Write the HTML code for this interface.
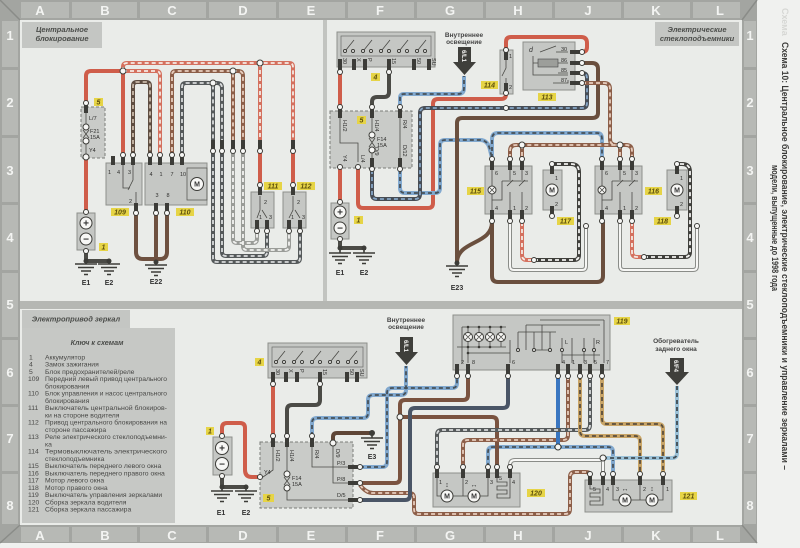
<!DOCTYPE html>
<html><head><meta charset="utf-8"><style>
html,body{margin:0;padding:0;background:#f0f1ef;width:800px;height:548px;overflow:hidden}
svg{display:block;font-family:"Liberation Sans",sans-serif}
.w{fill:none;stroke-width:4;stroke-linejoin:round}
.d{fill:none;stroke-width:1.8;stroke-dasharray:4 3}
.o{fill:none;stroke-width:2;stroke:#f7f7f5}
.th{fill:none;stroke:#4a4a46;stroke-width:.8}
.box{fill:#c5c7c4;stroke:#8d8f8b;stroke-width:1}
.dbox{fill:#c9cbc8;stroke:#7b7d79;stroke-width:1;stroke-dasharray:3 2}
.p{fill:#3c3c38}
.c{fill:#f7f7f5;stroke:#3c3c38;stroke-width:1}
.y{fill:#e6d446}
.yt{font-size:7px;font-weight:bold;font-style:italic;fill:#5d4f0c;text-anchor:middle}
.s{font-size:5.5px;fill:#2e2e2c}
.g{fill:none;stroke:#3c3c38;stroke-width:1.6}
.fl{font-size:13px;font-weight:bold;fill:#f3f4f2;text-anchor:middle}
.pt{font-size:7.5px;font-weight:bold;font-style:italic;fill:#4b4d4a;text-anchor:middle}
.k{font-size:6.8px;fill:#484846}
.e{font-size:7px;font-weight:bold;fill:#333;text-anchor:middle}
.bt{font-size:10px;font-weight:bold;fill:#333;text-anchor:middle}
.mt{font-size:7px;font-weight:bold;fill:#333;text-anchor:middle}
</style></head><body>
<svg width="800" height="548" viewBox="0 0 800 548">
<rect width="800" height="548" fill="#f0f1ef"/>
<!-- FRAME -->
<rect x="0" y="0" width="757" height="543" fill="#a3a5a1"/>
<g fill="#b7b9b5">
<rect x="21" y="2" width="48" height="16"/><rect x="72" y="2" width="65" height="16"/><rect x="140" y="2" width="66" height="16"/><rect x="209" y="2" width="67" height="16"/><rect x="279" y="2" width="66" height="16"/><rect x="348" y="2" width="66" height="16"/><rect x="417" y="2" width="66" height="16"/><rect x="486" y="2" width="66" height="16"/><rect x="555" y="2" width="66" height="16"/><rect x="624" y="2" width="66" height="16"/><rect x="693" y="2" width="47" height="16"/>
<rect x="21" y="527" width="48" height="15"/><rect x="72" y="527" width="65" height="15"/><rect x="140" y="527" width="66" height="15"/><rect x="209" y="527" width="67" height="15"/><rect x="279" y="527" width="66" height="15"/><rect x="348" y="527" width="66" height="15"/><rect x="417" y="527" width="66" height="15"/><rect x="486" y="527" width="66" height="15"/><rect x="555" y="527" width="66" height="15"/><rect x="624" y="527" width="66" height="15"/><rect x="693" y="527" width="47" height="15"/>
<rect x="2" y="21" width="16" height="46"/><rect x="2" y="70" width="16" height="65"/><rect x="2" y="138" width="16" height="64"/><rect x="2" y="205" width="16" height="65"/><rect x="2" y="273" width="16" height="64"/><rect x="2" y="340" width="16" height="64"/><rect x="2" y="407" width="16" height="64"/><rect x="2" y="474" width="16" height="50"/>
<rect x="744" y="21" width="12" height="46"/><rect x="744" y="70" width="12" height="65"/><rect x="744" y="138" width="12" height="64"/><rect x="744" y="205" width="12" height="65"/><rect x="744" y="273" width="12" height="64"/><rect x="744" y="340" width="12" height="64"/><rect x="744" y="407" width="12" height="64"/><rect x="744" y="474" width="12" height="50"/>
</g>
<path d="M0,0 L20,20 M757,0 L742,20 M0,543 L20,525 M757,543 L742,525" stroke="#8a8c88" stroke-width="1.5"/>
<g class="fl">
<text x="40" y="15">A</text><text x="105" y="15">B</text><text x="172" y="15">C</text><text x="243" y="15">D</text><text x="311" y="15">E</text><text x="380" y="15">F</text><text x="450" y="15">G</text><text x="518" y="15">H</text><text x="588" y="15">J</text><text x="656" y="15">K</text><text x="720" y="15">L</text>
<text x="40" y="540">A</text><text x="105" y="540">B</text><text x="172" y="540">C</text><text x="243" y="540">D</text><text x="311" y="540">E</text><text x="380" y="540">F</text><text x="450" y="540">G</text><text x="518" y="540">H</text><text x="588" y="540">J</text><text x="656" y="540">K</text><text x="720" y="540">L</text>
<text x="10" y="40">1</text><text x="10" y="107">2</text><text x="10" y="175">3</text><text x="10" y="242">4</text><text x="10" y="309">5</text><text x="10" y="377">6</text><text x="10" y="443">7</text><text x="10" y="510">8</text>
<text x="750" y="40">1</text><text x="750" y="107">2</text><text x="750" y="175">3</text><text x="750" y="242">4</text><text x="750" y="309">5</text><text x="750" y="377">6</text><text x="750" y="443">7</text><text x="750" y="510">8</text>
</g>
<rect x="20" y="20" width="722" height="505" fill="#eaece9"/>
<rect x="323" y="20" width="4" height="282" fill="#c2c4c0"/>
<rect x="20" y="301" width="722" height="8" fill="#b5b7b3"/>

<!-- right title -->
<text transform="translate(782,8) rotate(90)" font-size="9" font-weight="bold" fill="#d6d7d4">Схема</text>
<text transform="translate(782,42) rotate(90)" font-size="9" font-weight="bold" fill="#3a3a38" textLength="428" lengthAdjust="spacingAndGlyphs">Схема 10: Центральное блокирование, электрические стеклоподъемники и управление зеркалами –</text>
<text transform="translate(772,165) rotate(90)" font-size="9" font-weight="bold" fill="#3a3a38" textLength="126" lengthAdjust="spacingAndGlyphs">модели, выпущенные до 1998 года</text>

<!-- ================= TOP LEFT ================= -->
<rect x="22" y="22" width="80" height="26" fill="#c4c6c3"/>
<text x="62" y="32" class="pt">Центральное</text>
<text x="62" y="41" class="pt">блокирование</text>

<!-- wires -->
<path class="w" stroke="#cf5d4a" d="M86,108 L86,76 Q86,71 91,71 L123,71 L123,158"/>
<path class="w" stroke="#cf5d4a" d="M86,156 L86,212"/>
<path class="w" stroke="#d4705e" d="M123,71 L123,67 Q123,63 127,63 L289,63 Q293,63 293,67 L293,188 M260,63 L260,188 M123,71 L156,71 Q160,71 160,75 L160,158"/>
<path class="d" stroke="#f6e9e2" d="M123,71 L123,67 Q123,63 127,63 L289,63 Q293,63 293,67 L293,188 M260,63 L260,188 M123,71 L156,71 Q160,71 160,75 L160,158"/>
<path class="w" stroke="#5d4c40" d="M133,158 L133,86 Q133,82 137,82 L146,82 Q150,82 150,86 L150,158"/>
<path class="d" stroke="#c9b9a9" d="M133,158 L133,86 Q133,82 137,82 L146,82 Q150,82 150,86 L150,158"/>
<path class="w" stroke="#8c5e48" d="M172,158 L172,75 Q172,71 176,71 L229,71 Q233,71 233,75 L233,140 M233,71 L238,71 Q243,71 243,76 L243,140"/>
<path class="d" stroke="#e8cdbd" d="M172,158 L172,75 Q172,71 176,71 L229,71 Q233,71 233,75 L233,140 M233,71 L238,71 Q243,71 243,76 L243,140"/>
<path class="w" stroke="#55595a" d="M182,158 L182,87 Q182,83 186,83 L209,83 Q213,83 213,87 L213,140 M213,83 L217,83 Q222,83 222,88 L222,140 M213,150 L213,258 Q213,262 217,262 L296,262 Q300,262 300,258 L300,232 M222,150 L222,252 Q222,256 226,256 L263,256 Q267,256 267,252 L267,232"/>
<path class="d" stroke="#d8dadb" d="M182,158 L182,87 Q182,83 186,83 L209,83 Q213,83 213,87 L213,140 M213,83 L217,83 Q222,83 222,88 L222,140 M213,150 L213,258 Q213,262 217,262 L296,262 Q300,262 300,258 L300,232 M222,150 L222,252 Q222,256 226,256 L263,256 Q267,256 267,252 L267,232"/>
<path class="w" stroke="#9a9c98" d="M233,150 L233,239 Q233,243 237,243 L253,243 Q257,243 257,239 L257,232 M243,150 L243,246 Q243,250 247,250 L285,250 Q289,250 289,246 L289,232"/>
<path class="d" stroke="#f2f2f0" d="M233,150 L233,239 Q233,243 237,243 L253,243 Q257,243 257,239 L257,232 M243,150 L243,246 Q243,250 247,250 L285,250 Q289,250 289,246 L289,232"/>
<path class="w" stroke="#cf5d4a" d="M260,150 L260,186 M293,150 L293,186"/>
<path class="w" stroke="#6e5140" d="M136,214 L136,252 Q136,259 143,259 L156,259 M156,214 L156,262 M167,214 L167,252 Q167,259 160,259 L156,259"/>
<path class="w" stroke="#4b4b46" d="M86,251 L86,261 L109,261 L109,263"/>
<circle cx="86" cy="261" r="2.5" fill="#3c3c38"/><circle cx="109" cy="261" r="2.5" fill="#3c3c38"/><circle cx="156" cy="262" r="2.5" fill="#3c3c38"/>
<path class="g" d="M86,261 V264 M75,264 H97 M78,267.5 H94 M81,271 H91 M84,274.5 H88 M109,261 V264 M98,264 H120 M101,267.5 H117 M104,271 H114 M107,274.5 H111 M156,262 V265 M145,265 H167 M148,268.5 H164 M151,272 H161 M154,275.5 H158"/>
<text x="86" y="285" class="e">E1</text><text x="109" y="285" class="e">E2</text><text x="156" y="284" class="e">E22</text>

<!-- components -->
<rect class="dbox" x="81" y="107" width="24" height="51"/>
<text x="89" y="120" class="s">L/7</text><text x="90" y="133" class="s">F21</text><text x="90" y="139" class="s">15A</text><text x="89" y="152" class="s">Y4</text>
<path class="th" d="M86,112 V124 M83,130 L89,138 M89,130 L83,138 M86,144 V154"/>
<circle class="c" cx="86" cy="127" r="3"/><circle class="c" cx="86" cy="141" r="3"/><circle class="c" cx="86" cy="157" r="3"/>
<rect class="y" x="94" y="98" width="9" height="8"/><text x="98.5" y="104.5" class="yt">5</text>

<rect class="box" x="106" y="163" width="36" height="42"/>
<text x="108" y="174" class="s">1</text><text x="117" y="174" class="s">4</text><text x="128" y="174" class="s">3</text><text x="129" y="203" class="s">2</text>
<path class="th" d="M133,165 V180 L128,190 M136,192 V203 M123,165 V188 H130"/>
<rect class="box" x="145" y="163" width="62" height="42"/>
<rect x="187" y="168" width="20" height="32" fill="none" stroke="#5a5a56" stroke-width=".8"/>
<circle class="c" cx="197" cy="184" r="6.5"/><text x="197" y="186.5" class="mt">M</text>
<text x="151" y="176" class="s" text-anchor="middle">4</text><text x="161" y="176" class="s" text-anchor="middle">1</text><text x="172" y="176" class="s" text-anchor="middle">7</text><text x="183" y="176" class="s" text-anchor="middle">10</text>
<text x="157" y="197" class="s" text-anchor="middle">3</text><text x="168" y="197" class="s" text-anchor="middle">8</text>
<rect class="box" x="251" y="192" width="23" height="36"/><text x="264" y="204" class="s">2</text><text x="259" y="219" class="s">1</text><text x="269" y="219" class="s">3</text>
<path class="th" d="M260,196 V210 L257,218 M262,210 L267,218"/>
<rect class="box" x="283" y="192" width="23" height="36"/><text x="297" y="204" class="s">2</text><text x="291" y="219" class="s">1</text><text x="302" y="219" class="s">3</text>
<path class="th" d="M293,196 V210 L289,218 M295,210 L300,218"/>
<rect class="box" x="77" y="213" width="18" height="37"/>
<circle class="c" cx="86" cy="223" r="6"/><text x="86" y="226.5" class="bt">+</text>
<circle class="c" cx="86" cy="239" r="6"/><text x="86" y="242.5" class="bt">−</text>
<rect class="y" x="111" y="208" width="18" height="8"/><text x="120" y="214.5" class="yt">109</text>
<rect class="y" x="176" y="208" width="18" height="8"/><text x="185" y="214.5" class="yt">110</text>
<rect class="y" x="264" y="182" width="18" height="8"/><text x="273" y="188.5" class="yt">111</text>
<rect class="y" x="297" y="182" width="18" height="8"/><text x="306" y="188.5" class="yt">112</text>
<rect class="y" x="99" y="243" width="9" height="8"/><text x="103.5" y="249.5" class="yt">1</text>
<!-- pins -->
<g class="p">
<rect x="84" y="104" width="4" height="9"/>
<rect x="111" y="156" width="4" height="9"/><rect x="121" y="156" width="4" height="9"/><rect x="131" y="156" width="4" height="9"/>
<rect x="148" y="156" width="4" height="9"/><rect x="158" y="156" width="4" height="9"/><rect x="170" y="156" width="4" height="9"/><rect x="180" y="156" width="4" height="9"/>
<rect x="134" y="203" width="4" height="9"/><rect x="154" y="203" width="4" height="9"/><rect x="165" y="203" width="4" height="9"/>
<rect x="211" y="140" width="4" height="10"/><rect x="220" y="140" width="4" height="10"/><rect x="231" y="140" width="4" height="10"/><rect x="241" y="140" width="4" height="10"/><rect x="258" y="140" width="4" height="10"/><rect x="291" y="140" width="4" height="10"/>
<rect x="258" y="186" width="4" height="9"/><rect x="255" y="220" width="4" height="9"/><rect x="265" y="220" width="4" height="9"/>
<rect x="291" y="186" width="4" height="9"/><rect x="287" y="220" width="4" height="9"/><rect x="298" y="220" width="4" height="9"/>
</g>
<g class="c">
<circle cx="86" cy="103" r="2.5"/><circle cx="123" cy="155" r="2.5"/><circle cx="133" cy="155" r="2.5"/>
<circle cx="150" cy="155" r="2.5"/><circle cx="160" cy="155" r="2.5"/><circle cx="172" cy="155" r="2.5"/><circle cx="182" cy="155" r="2.5"/>
<circle cx="136" cy="213" r="2.5"/><circle cx="156" cy="213" r="2.5"/><circle cx="167" cy="213" r="2.5"/>
<circle cx="213" cy="151" r="2.5"/><circle cx="222" cy="151" r="2.5"/><circle cx="233" cy="151" r="2.5"/><circle cx="243" cy="151" r="2.5"/><circle cx="260" cy="151" r="2.5"/><circle cx="293" cy="151" r="2.5"/>
<circle cx="260" cy="185" r="2.5"/><circle cx="257" cy="231" r="2.5"/><circle cx="267" cy="231" r="2.5"/>
<circle cx="293" cy="185" r="2.5"/><circle cx="289" cy="231" r="2.5"/><circle cx="300" cy="231" r="2.5"/>
<circle cx="86" cy="212" r="2.5"/><circle cx="86" cy="251" r="2.5"/>
<circle cx="123" cy="71" r="3"/><circle cx="260" cy="63" r="3"/><circle cx="233" cy="71" r="3"/><circle cx="213" cy="83" r="3"/>
</g>

<!-- ================= TOP RIGHT ================= -->
<rect x="655" y="22" width="84" height="24" fill="#c4c6c3"/>
<text x="697" y="32" class="pt">Электрические</text>
<text x="697" y="41" class="pt">стеклоподъемники</text>

<path class="w" stroke="#cf5d4a" d="M340,72 L340,108 M340,168 L340,202 M358,168 L358,203 Q358,208 363,208 L428,208 Q433,208 433,203 L433,104 Q433,99 438,99 L501,99 Q506,99 506,94 M506,50 L506,42 Q506,37 511,37 L581,37 Q587,37 587,43 L587,47 Q587,52 582,52"/>
<path class="w" stroke="#4b4b46" d="M389,72 L389,92 Q389,97 384,97 L377,97 Q372,97 372,102 L372,108"/>
<path class="w" stroke="#82a9cf" d="M400,108 L400,98 Q400,94 404,94 L458,94 Q464,94 464,88 L464,76 M400,170 L400,188 Q400,193 405,193 L435,193 Q440,193 440,188 L440,145 Q440,140 445,140 L480,140 Q488,140 490,150 L492,158 M492,158 L492,139 Q492,133 498,133 L597,133 Q602,133 602,139 L602,158"/>
<path class="d" stroke="#465058" d="M400,108 L400,98 Q400,94 404,94 L458,94 Q464,94 464,88 L464,76 M400,170 L400,188 Q400,193 405,193 L435,193 Q440,193 440,188 L440,145 Q440,140 445,140 L480,140 Q488,140 490,150 L492,158 M492,158 L492,139 Q492,133 498,133 L597,133 Q602,133 602,139 L602,158"/>
<path class="w" stroke="#474d55" d="M372,170 L372,194 Q372,199 377,199 L415,199 Q420,199 420,194 L420,113 Q420,108 425,108 L582,108 Q587,108 587,103 L587,78 Q587,73 582,73"/>
<path class="d" stroke="#86a6c6" d="M372,170 L372,194 Q372,199 377,199 L415,199 Q420,199 420,194 L420,113 Q420,108 425,108 L582,108 Q587,108 587,103 L587,78 Q587,73 582,73"/>
<path class="w" stroke="#6a4f3e" d="M582,63 L592,63 Q598,63 598,69 L598,113 Q598,118 592,118 L462,118 Q457,118 457,123 L457,263 M492,222 C492,245 458,240 457,262 M492,222 L492,276 Q492,282 498,282 L597,282 Q603,282 603,276 L603,222"/>
<path class="w" stroke="#8c5e48" d="M582,83 L604,83 Q610,83 610,89 L610,139 Q610,145 616,145 L620,145 M510,158 L510,151 Q510,145 516,145 L626,145 Q632,145 632,151 L632,158 M522,145 L522,158 M620,145 L620,158"/>
<path class="d" stroke="#e8cdbd" d="M582,83 L604,83 Q610,83 610,89 L610,139 Q610,145 616,145 L620,145 M510,158 L510,151 Q510,145 516,145 L626,145 Q632,145 632,151 L632,158 M522,145 L522,158 M620,145 L620,158"/>
<path class="w" stroke="#8a8c88" d="M510,222 L510,266 Q510,270 514,270 L582,270 Q586,270 586,266 L586,226 M620,222 L620,266 Q620,270 624,270 L693,270 Q697,270 697,266 L697,226"/>
<path class="o" d="M510,222 L510,266 Q510,270 514,270 L582,270 Q586,270 586,266 L586,226 M620,222 L620,266 Q620,270 624,270 L693,270 Q697,270 697,266 L697,226"/>
<path class="w" stroke="#d4705e" d="M522,222 L522,255 Q522,260 527,260 L534,260 M632,222 L632,252 Q632,257 637,257 L644,257"/>
<path class="d" stroke="#f6e9e2" d="M522,222 L522,255 Q522,260 527,260 L534,260 M632,222 L632,252 Q632,257 637,257 L644,257"/>
<path class="w" stroke="#3f3f3b" d="M534,260 L574,260 Q579,260 579,255 L579,172 Q579,164 571,164 L552,164 M644,257 L685,257 Q690,257 690,252 L690,172 Q690,164 682,164 L677,164"/>
<path class="d" stroke="#f2f2f0" d="M534,260 L574,260 Q579,260 579,255 L579,172 Q579,164 571,164 L552,164 M644,257 L685,257 Q690,257 690,252 L690,172 Q690,164 682,164 L677,164"/>
<circle cx="457" cy="263" r="2.5" fill="#3c3c38"/>
<path class="w" stroke="#4b4b46" d="M340,239 L340,248 L364,248 L364,250"/>
<circle cx="340" cy="248" r="2.5" fill="#3c3c38"/><circle cx="364" cy="248" r="2.5" fill="#3c3c38"/>
<path class="g" d="M340,248 V253 M329,253 H351 M332,256.5 H348 M335,260 H345 M338,263.5 H342 M364,250 V253 M353,253 H375 M356,256.5 H372 M359,260 H369 M362,263.5 H366 M457,263 V266 M446,266 H468 M449,269.5 H465 M452,273 H462 M455,276.5 H459"/>
<text x="340" y="275" class="e">E1</text><text x="364" y="275" class="e">E2</text><text x="457" y="290" class="e">E23</text>

<!-- ign switch 4 -->
<rect class="box" x="337" y="32" width="98" height="35"/>
<rect x="341" y="36" width="90" height="20" fill="none" stroke="#6a6c68" stroke-width=".7"/>
<path class="th" d="M346,50 L354,40 M364,50 L372,40 M382,50 L390,40 M400,50 L408,40 M418,50 L426,40"/>
<g class="c"><circle cx="345" cy="51" r="1.5"/><circle cx="353" cy="51" r="1.5"/><circle cx="363" cy="51" r="1.5"/><circle cx="371" cy="51" r="1.5"/><circle cx="381" cy="51" r="1.5"/><circle cx="389" cy="51" r="1.5"/><circle cx="399" cy="51" r="1.5"/><circle cx="407" cy="51" r="1.5"/><circle cx="417" cy="51" r="1.5"/><circle cx="425" cy="51" r="1.5"/></g>
<g class="s"><text transform="translate(343,58) rotate(90)">30</text><text transform="translate(357,58) rotate(90)">X</text><text transform="translate(368,58) rotate(90)">P</text><text transform="translate(392,58) rotate(90)">15</text><text transform="translate(417,58) rotate(90)">50</text><text transform="translate(432,58) rotate(90)">SU</text></g>
<rect class="y" x="371" y="73" width="9" height="8"/><text x="375.5" y="79.5" class="yt">4</text>
<text x="464" y="37" font-size="6.5" font-weight="bold" fill="#444" text-anchor="middle">Внутреннее</text>
<text x="464" y="44" font-size="6.5" font-weight="bold" fill="#444" text-anchor="middle">освещение</text>
<path d="M458,47 h13 v15 h5 l-11.5,13 l-11.5,-13 h5 z" fill="#3f3f3b"/>
<text transform="translate(462,50) rotate(90)" font-size="6" font-weight="bold" fill="#f3f3f1">6/L1</text>

<!-- fuse box 5 -->
<rect class="dbox" x="330" y="111" width="82" height="57"/>
<path class="th" d="M340,118 V143 H358 V162 M372,118 V132 M369,138 L375,147 M375,138 L369,147 M372,153 V158 M400,118 V158"/>
<circle class="c" cx="372" cy="135" r="3"/><circle class="c" cx="372" cy="150" r="3"/>
<text x="377" y="141" class="s">F14</text><text x="377" y="147" class="s">15A</text>
<g class="s"><text transform="translate(343,120) rotate(90)">H1/2</text><text transform="translate(375,120) rotate(90)">H1/4</text><text transform="translate(403,120) rotate(90)">R/4</text><text transform="translate(343,155) rotate(90)">Y4</text><text transform="translate(361,155) rotate(90)">L/4</text><text transform="translate(375,147) rotate(90)">D/9</text><text transform="translate(403,145) rotate(90)">D/12</text></g>
<rect class="y" x="357" y="116" width="9" height="8"/><text x="361.5" y="122.5" class="yt">5</text>

<!-- battery TR -->
<rect class="box" x="331" y="203" width="18" height="36"/>
<circle class="c" cx="340" cy="212" r="6"/><text x="340" y="215.5" class="bt">+</text>
<circle class="c" cx="340" cy="228" r="6"/><text x="340" y="231.5" class="bt">−</text>
<rect class="y" x="354" y="216" width="9" height="8"/><text x="358.5" y="222.5" class="yt">1</text>

<!-- 114 / 113 -->
<rect class="box" x="500" y="50" width="13" height="44"/>
<path class="th" d="M506,60 V68 L502,76 M506,78 V84"/>
<text x="509" y="58" class="s">1</text><text x="509" y="89" class="s">2</text>
<rect class="y" x="481" y="81" width="17" height="8"/><text x="489.5" y="87.5" class="yt">114</text>
<rect class="box" x="523" y="42" width="52" height="48"/>
<text x="529" y="52" font-size="7" font-style="italic" fill="#333">d</text>
<path class="th" d="M540,52 L556,46 M556,52 H568 M533,56 V75 H568 M538,63 H533 M558,63 H568 M558,73 H568 M553,83 H568 V80"/>
<rect x="538" y="59" width="20" height="8" fill="#9c9e9a" stroke="#444" stroke-width=".6"/>
<g class="s"><text x="561" y="51">30</text><text x="561" y="62">86</text><text x="561" y="72">85</text><text x="561" y="82">87</text></g>
<rect class="y" x="538" y="93" width="18" height="8"/><text x="547" y="99.5" class="yt">113</text>

<!-- 115 -->
<rect class="box" x="485" y="166" width="47" height="48"/>
<path class="th" d="M492,170 V186 M492,194 V210 M510,170 V180 M522,170 V180 M502,181 H528 M507,186 L513,180 M519,186 L525,180 M510,192 V210 M522,192 V210 M502,181 V200 H492"/>
<circle class="c" cx="492" cy="190" r="4"/><path class="th" d="M489,187 L495,193 M495,187 L489,193"/>
<g class="s"><text x="495" y="175">6</text><text x="513" y="175">5</text><text x="525" y="175">3</text><text x="495" y="210">4</text><text x="513" y="210">1</text><text x="525" y="210">2</text></g>
<rect class="y" x="467" y="187" width="17" height="8"/><text x="475.5" y="193.5" class="yt">115</text>
<rect class="box" x="543" y="170" width="19" height="40"/>
<circle class="c" cx="552" cy="190" r="6"/><text x="552" y="192.5" class="mt">M</text>
<text x="555" y="180" class="s">1</text><text x="555" y="206" class="s">2</text>
<rect class="y" x="557" y="217" width="17" height="8"/><text x="565.5" y="223.5" class="yt">117</text>
<!-- 116 -->
<rect class="box" x="595" y="166" width="47" height="48"/>
<path class="th" d="M602,170 V186 M602,194 V210 M620,170 V180 M632,170 V180 M612,181 H638 M617,186 L623,180 M629,186 L635,180 M620,192 V210 M632,192 V210 M612,181 V200 H602"/>
<circle class="c" cx="602" cy="190" r="4"/><path class="th" d="M599,187 L605,193 M605,187 L599,193"/>
<g class="s"><text x="605" y="175">6</text><text x="623" y="175">5</text><text x="635" y="175">3</text><text x="605" y="210">4</text><text x="623" y="210">1</text><text x="635" y="210">2</text></g>
<rect class="y" x="645" y="187" width="17" height="8"/><text x="653.5" y="193.5" class="yt">116</text>
<rect class="box" x="667" y="170" width="20" height="40"/>
<circle class="c" cx="677" cy="190" r="6"/><text x="677" y="192.5" class="mt">M</text>
<text x="680" y="180" class="s">1</text><text x="680" y="206" class="s">2</text>
<rect class="y" x="654" y="217" width="17" height="8"/><text x="662.5" y="223.5" class="yt">118</text>
<!-- pins TR -->
<g class="p">
<rect x="338" y="59" width="4" height="11"/><rect x="352" y="59" width="4" height="11"/><rect x="363" y="59" width="4" height="11"/><rect x="387" y="59" width="4" height="11"/><rect x="412" y="59" width="4" height="11"/><rect x="427" y="59" width="4" height="11"/>
<rect x="338" y="108" width="4" height="10"/><rect x="370" y="108" width="4" height="10"/><rect x="398" y="108" width="4" height="10"/>
<rect x="370" y="158" width="4" height="10"/><rect x="398" y="158" width="4" height="10"/>
<rect x="504" y="51" width="4" height="9"/><rect x="504" y="83" width="4" height="9"/>
<rect x="570" y="50" width="10" height="4"/><rect x="570" y="61" width="10" height="4"/><rect x="570" y="71" width="10" height="4"/><rect x="570" y="81" width="10" height="4"/>
<rect x="490" y="160" width="4" height="10"/><rect x="508" y="160" width="4" height="10"/><rect x="520" y="160" width="4" height="10"/>
<rect x="490" y="210" width="4" height="10"/><rect x="508" y="210" width="4" height="10"/><rect x="520" y="210" width="4" height="10"/>
<rect x="550" y="165" width="4" height="9"/><rect x="550" y="206" width="4" height="9"/>
<rect x="600" y="160" width="4" height="10"/><rect x="618" y="160" width="4" height="10"/><rect x="630" y="160" width="4" height="10"/>
<rect x="600" y="210" width="4" height="10"/><rect x="618" y="210" width="4" height="10"/><rect x="630" y="210" width="4" height="10"/>
<rect x="675" y="165" width="4" height="9"/><rect x="675" y="206" width="4" height="9"/>
</g>
<g class="c">
<circle cx="340" cy="72" r="2.5"/><circle cx="389" cy="72" r="2.5"/>
<circle cx="340" cy="107" r="2.5"/><circle cx="372" cy="107" r="2.5"/><circle cx="400" cy="107" r="2.5"/>
<circle cx="340" cy="167" r="2.5"/><circle cx="358" cy="167" r="2.5"/><circle cx="372" cy="169" r="2.5"/><circle cx="400" cy="169" r="2.5"/>
<circle cx="506" cy="50" r="2.5"/><circle cx="506" cy="93" r="2.5"/>
<circle cx="582" cy="52" r="2.5"/><circle cx="582" cy="63" r="2.5"/><circle cx="582" cy="73" r="2.5"/><circle cx="582" cy="83" r="2.5"/>
<circle cx="492" cy="159" r="2.5"/><circle cx="510" cy="159" r="2.5"/><circle cx="522" cy="159" r="2.5"/>
<circle cx="492" cy="221" r="2.5"/><circle cx="510" cy="221" r="2.5"/><circle cx="522" cy="221" r="2.5"/>
<circle cx="602" cy="159" r="2.5"/><circle cx="620" cy="159" r="2.5"/><circle cx="632" cy="159" r="2.5"/>
<circle cx="602" cy="221" r="2.5"/><circle cx="620" cy="221" r="2.5"/><circle cx="632" cy="221" r="2.5"/>
<circle cx="552" cy="164" r="2.5"/><circle cx="552" cy="216" r="2.5"/><circle cx="677" cy="164" r="2.5"/><circle cx="677" cy="216" r="2.5"/>
<circle cx="586" cy="226" r="2.5"/><circle cx="697" cy="226" r="2.5"/><circle cx="534" cy="260" r="2.5"/><circle cx="644" cy="257" r="2.5"/>
<circle cx="340" cy="202" r="2.5"/><circle cx="340" cy="239" r="2.5"/>
<circle cx="522" cy="145" r="3"/><circle cx="620" cy="145" r="3"/><circle cx="506" cy="108" r="2.5"/>
</g>

<!-- ================= BOTTOM ================= -->
<rect x="22" y="310" width="108" height="18" fill="#c4c6c3"/>
<text x="76" y="321.5" class="pt">Электропривод зеркал</text>
<rect x="22" y="328" width="153" height="195" fill="#c6c8c5"/>
<text x="97" y="345" font-size="7.2" font-weight="bold" font-style="italic" fill="#4b4d4a" text-anchor="middle">Ключ к схемам</text>
<g class="k">
<text x="29" y="359.5">1</text><text x="45" y="359.5">Аккумулятор</text>
<text x="29" y="366.7">4</text><text x="45" y="366.7">Замок зажигания</text>
<text x="29" y="374">5</text><text x="45" y="374">Блок предохранителей/реле</text>
<text x="28" y="381.2">109</text><text x="45" y="381.2" textLength="122" lengthAdjust="spacingAndGlyphs">Передний левый привод центрального</text>
<text x="45" y="388.5">блокирования</text>
<text x="28" y="395.7">110</text><text x="45" y="395.7" textLength="122" lengthAdjust="spacingAndGlyphs">Блок управления и насос центрального</text>
<text x="45" y="402.9">блокирования</text>
<text x="28" y="410.2">111</text><text x="45" y="410.2" textLength="122" lengthAdjust="spacingAndGlyphs">Выключатель центральной блокиров-</text>
<text x="45" y="417.4">ки на стороне водителя</text>
<text x="28" y="424.7">112</text><text x="45" y="424.7" textLength="122" lengthAdjust="spacingAndGlyphs">Привод центрального блокирования на</text>
<text x="45" y="431.9">стороне пассажира</text>
<text x="28" y="439.1">113</text><text x="45" y="439.1" textLength="122" lengthAdjust="spacingAndGlyphs">Реле электрического стеклоподъемни-</text>
<text x="45" y="446.4">ка</text>
<text x="28" y="453.6">114</text><text x="45" y="453.6" textLength="122" lengthAdjust="spacingAndGlyphs">Термовыключатель электрического</text>
<text x="45" y="460.9">стеклоподъемника</text>
<text x="28" y="468.1">115</text><text x="45" y="468.1">Выключатель переднего левого окна</text>
<text x="28" y="475.3">116</text><text x="45" y="475.3">Выключатель переднего правого окна</text>
<text x="28" y="482.6">117</text><text x="45" y="482.6">Мотор левого окна</text>
<text x="28" y="489.8">118</text><text x="45" y="489.8">Мотор правого окна</text>
<text x="28" y="497.1">119</text><text x="45" y="497.1">Выключатель управления зеркалами</text>
<text x="28" y="504.3">120</text><text x="45" y="504.3">Сборка зеркала водителя</text>
<text x="28" y="511.5">121</text><text x="45" y="511.5">Сборка зеркала пассажира</text>
</g>

<!-- wires bottom -->
<path class="w" stroke="#cf5d4a" d="M222,436 L222,428 Q222,423 227,423 L240,423 Q245,423 245,428 L245,470 Q245,477 252,477 L258,477 M273,384 L273,436"/>
<path class="w" stroke="#4b4b46" d="M320,384 L320,400 Q320,405 315,405 L292,405 Q287,405 287,410 L287,436"/>
<path class="w" stroke="#82a9cf" d="M312,436 L312,423 Q312,418 317,418 L363,418 Q368,418 368,413 L368,400 Q368,395 373,395 L401,395 Q406,395 406,390 L406,366 M360,467 L382,467 Q387,467 387,462 L387,393 Q387,388 392,388 L452,388 Q457,388 457,383 L457,376 M558,447 L493,447 Q488,447 488,452 L488,467 M558,447 L608,447 Q613,447 613,452 L613,474"/>
<path class="d" stroke="#465058" d="M312,436 L312,423 Q312,418 317,418 L363,418 Q368,418 368,413 L368,400 Q368,395 373,395 L401,395 Q406,395 406,390 L406,366 M360,467 L382,467 Q387,467 387,462 L387,393 Q387,388 392,388 L452,388 Q457,388 457,383 L457,376 M558,447 L493,447 Q488,447 488,452 L488,467 M558,447 L608,447 Q613,447 613,452 L613,474"/>
<path class="w" stroke="#5e4536" d="M333,440 L333,437 Q333,433 337,433 L372,433"/>
<path class="w" stroke="#7a5340" d="M360,483 L395,483 Q400,483 400,478 L400,405 Q400,400 405,400 L463,400 Q468,400 468,395 L468,376 M400,417 L492,417 Q497,417 497,422 L497,467"/>
<path class="w" stroke="#8c5e48" d="M360,485 Q366,493 373,493 L409,493 Q414,493 414,498 L414,509 Q414,514 419,514 L565,514 Q570,514 570,509 L570,477 Q570,472 575,472 L585,472 Q590,472 590,474 M568,376 L568,435 Q568,440 563,440 L468,440 Q463,440 463,445 L463,467"/>
<path class="d" stroke="#e8cdbd" d="M360,485 Q366,493 373,493 L409,493 Q414,493 414,498 L414,509 Q414,514 419,514 L565,514 Q570,514 570,509 L570,477 Q570,472 575,472 L585,472 Q590,472 590,474 M568,376 L568,435 Q568,440 563,440 L468,440 Q463,440 463,445 L463,467"/>
<path class="w" stroke="#4a5566" d="M360,500 L405,500 Q410,500 410,495 L410,413 Q410,408 415,408 L503,408 Q508,408 508,403 L508,376"/>
<path class="w" stroke="#3a76c0" d="M558,376 L558,447"/>
<path class="w" stroke="#55595a" d="M590,376 L590,425 Q590,430 585,430 L442,430 Q437,430 437,435 L437,467"/>
<path class="d" stroke="#d8dadb" d="M590,376 L590,425 Q590,430 585,430 L442,430 Q437,430 437,435 L437,467"/>
<path class="w" stroke="#c9a568" d="M580,376 L580,431 Q580,436 585,436 L635,436 Q640,436 640,441 L640,474 M602,376 L602,419 Q602,424 607,424 L658,424 Q663,424 663,429 L663,474"/>
<path class="d" stroke="#5a4e3c" d="M580,376 L580,431 Q580,436 585,436 L635,436 Q640,436 640,441 L640,474 M602,376 L602,419 Q602,424 607,424 L658,424 Q663,424 663,429 L663,474"/>
<path class="w" stroke="#9cc2d8" d="M677,386 L677,453 Q677,458 672,458 L603,458"/>
<path class="d" stroke="#3f4a52" d="M677,386 L677,453 Q677,458 672,458 L603,458"/>
<path class="w" stroke="#8a8c88" d="M603,458 L603,474 M603,460 L515,460 Q510,460 510,465 L510,467"/>
<path class="o" d="M603,458 L603,474 M603,460 L515,460 Q510,460 510,465 L510,467"/>
<path class="w" stroke="#4b4b46" d="M222,476 L222,487 L246,487 L246,489"/>
<circle cx="222" cy="487" r="2.5" fill="#3c3c38"/><circle cx="246" cy="487" r="2.5" fill="#3c3c38"/><circle cx="372" cy="433" r="3" fill="#3c3c38"/>
<path class="g" d="M222,487 V491 M211,491 H233 M214,494.5 H230 M217,498 H227 M220,501.5 H224 M246,489 V491 M235,491 H257 M238,494.5 H254 M241,498 H251 M244,501.5 H248 M372,433 V438 M361,438 H383 M364,441.5 H380 M367,445 H377 M370,448.5 H374"/>
<text x="221" y="515" class="e">E1</text><text x="246" y="515" class="e">E2</text><text x="372" y="459" class="e">E3</text>

<!-- battery bottom -->
<rect class="box" x="213" y="437" width="19" height="38"/>
<circle class="c" cx="222" cy="448" r="6.5"/><text x="222" y="451.5" class="bt">+</text>
<circle class="c" cx="222" cy="464" r="6.5"/><text x="222" y="467.5" class="bt">−</text>
<rect class="y" x="206" y="427" width="8" height="8"/><text x="210" y="433.5" class="yt">1</text>

<!-- ign 4 bottom -->
<rect class="box" x="268" y="343" width="99" height="35"/>
<rect x="272" y="347" width="91" height="20" fill="none" stroke="#6a6c68" stroke-width=".7"/>
<path class="th" d="M277,361 L285,351 M295,361 L303,351 M313,361 L321,351 M331,361 L339,351 M349,361 L357,351"/>
<g class="c"><circle cx="276" cy="362" r="1.5"/><circle cx="284" cy="362" r="1.5"/><circle cx="294" cy="362" r="1.5"/><circle cx="302" cy="362" r="1.5"/><circle cx="312" cy="362" r="1.5"/><circle cx="320" cy="362" r="1.5"/><circle cx="330" cy="362" r="1.5"/><circle cx="338" cy="362" r="1.5"/><circle cx="348" cy="362" r="1.5"/><circle cx="356" cy="362" r="1.5"/></g>
<g class="s"><text transform="translate(276,369) rotate(90)">30</text><text transform="translate(289,369) rotate(90)">X</text><text transform="translate(300,369) rotate(90)">P</text><text transform="translate(323,369) rotate(90)">15</text><text transform="translate(350,369) rotate(90)">50</text><text transform="translate(360,369) rotate(90)">SU</text></g>
<rect class="y" x="255" y="358" width="9" height="8"/><text x="259.5" y="364.5" class="yt">4</text>
<text x="406" y="322" font-size="6.5" font-weight="bold" fill="#444" text-anchor="middle">Внутреннее</text>
<text x="406" y="329" font-size="6.5" font-weight="bold" fill="#444" text-anchor="middle">освещение</text>
<path d="M400,337 h13 v15 h5 l-11.5,13 l-11.5,-13 h5 z" fill="#3f3f3b"/>
<text transform="translate(404,340) rotate(90)" font-size="6" font-weight="bold" fill="#f3f3f1">6/L1</text>

<!-- fuse box 5 bottom -->
<rect class="dbox" x="260" y="442" width="93" height="66"/>
<path class="th" d="M312,447 V467 H348 M333,446 V483 H348 M287,447 V471 M284,477 L290,485 M290,477 L284,485 M287,491 V500 H348 M273,447 V470 L263,477"/>
<circle class="c" cx="287" cy="474" r="3"/><circle class="c" cx="287" cy="488" r="3"/>
<text x="292" y="480" class="s">F14</text><text x="292" y="486" class="s">15A</text>
<g class="s"><text transform="translate(276,450) rotate(90)">H1/2</text><text transform="translate(290,450) rotate(90)">H1/4</text><text transform="translate(315,450) rotate(90)">R/4</text><text transform="translate(336,449) rotate(90)">D/9</text>
<text x="337" y="465">P/3</text><text x="337" y="481">P/8</text><text x="337" y="497">D/5</text><text x="264" y="474">Y4</text></g>
<rect class="y" x="263" y="494" width="11" height="8"/><text x="268.5" y="500.5" class="yt">5</text>

<!-- 119 -->
<rect class="box" x="453" y="315" width="157" height="55"/>
<path class="th" d="M462,327 H506 M462,327 V363 M468,327 V332 M479,327 V332 M490,327 V332 M501,327 V332 M468,342 V347 M479,342 V347 M490,342 V347 M501,342 V347 M457,347 H506 M468,347 V363 M468,353 H510 M510,340 V363 M518,332 V350 M526,325 V350 M534,332 V350 M542,325 V350 M550,332 V350 M526,325 H600 M518,332 H556 M534,350 H548 M562,338 V363 M572,338 V363 M584,338 V363 M594,338 V363 M604,320 V363 M540,320 H604 M562,355 H600"/>
<g class="c"><circle cx="468" cy="337" r="4.5"/><circle cx="479" cy="337" r="4.5"/><circle cx="490" cy="337" r="4.5"/><circle cx="501" cy="337" r="4.5"/>
<circle cx="518" cy="350" r="1.5"/><circle cx="534" cy="350" r="1.5"/><circle cx="550" cy="350" r="1.5"/><circle cx="562" cy="350" r="1.5"/><circle cx="584" cy="350" r="1.5"/><circle cx="594" cy="350" r="1.5"/></g>
<path class="th" d="M465,334 L471,340 M471,334 L465,340 M476,334 L482,340 M482,334 L476,340 M487,334 L493,340 M493,334 L487,340 M498,334 L504,340 M504,334 L498,340"/>
<g fill="#3c3c38"><circle cx="468" cy="327" r="1.3"/><circle cx="479" cy="327" r="1.3"/><circle cx="490" cy="327" r="1.3"/><circle cx="501" cy="327" r="1.3"/><circle cx="468" cy="347" r="1.3"/><circle cx="479" cy="347" r="1.3"/><circle cx="490" cy="347" r="1.3"/><circle cx="468" cy="353" r="1.3"/></g>
<g class="s"><text x="565" y="344">L</text><text x="596" y="344">R</text><text x="461" y="364">2</text><text x="472" y="364">8</text><text x="512" y="364">6</text><text x="562" y="364">4</text><text x="572" y="364">1</text><text x="584" y="364">3</text><text x="594" y="364">5</text><text x="606" y="364">7</text></g>
<rect class="y" x="614" y="317" width="16" height="8"/><text x="622" y="323.5" class="yt">119</text>
<text x="676" y="343" font-size="6.5" font-weight="bold" fill="#444" text-anchor="middle">Обогреватель</text>
<text x="676" y="351" font-size="6.5" font-weight="bold" fill="#444" text-anchor="middle">заднего окна</text>
<path d="M670,358 h14 v14 h5 l-12,13 l-12,-13 h5 z" fill="#3f3f3b"/>
<text transform="translate(674,360) rotate(90)" font-size="6" font-weight="bold" fill="#f3f3f1">6/F4</text>

<!-- 120 -->
<rect class="box" x="433" y="473" width="87" height="34"/>
<path class="th" d="M437,478 V496 H441 M463,478 V496 H480 M453,496 H468 M488,478 V496 H480 M497,478 V482 H507 V486 H497 V490 H507 V494 H497 V498 H510 V478"/>
<circle class="c" cx="447" cy="496" r="6"/><text x="447" y="498.5" class="mt">M</text>
<circle class="c" cx="474" cy="496" r="6"/><text x="474" y="498.5" class="mt">M</text>
<text x="447" y="487" font-size="7" fill="#333" text-anchor="middle">↕</text><text x="474" y="487" font-size="7" fill="#333" text-anchor="middle">↔</text>
<g class="s"><text x="439" y="484">1</text><text x="465" y="484">2</text><text x="490" y="484">3</text><text x="499" y="480">5</text><text x="512" y="484">4</text></g>
<rect class="y" x="527" y="489" width="18" height="8"/><text x="536" y="495.5" class="yt">120</text>
<!-- 121 -->
<rect class="box" x="585" y="480" width="87" height="32"/>
<path class="th" d="M590,485 V489 H600 V493 H590 V497 H600 V501 H590 V505 H603 V485 M613,485 V500 H619 M640,485 V500 M631,500 H646 M663,485 V500 H658"/>
<circle class="c" cx="625" cy="500" r="6"/><text x="625" y="502.5" class="mt">M</text>
<circle class="c" cx="652" cy="500" r="6"/><text x="652" y="502.5" class="mt">M</text>
<text x="625" y="491" font-size="7" fill="#333" text-anchor="middle">↔</text><text x="652" y="491" font-size="7" fill="#333" text-anchor="middle">↕</text>
<g class="s"><text x="593" y="491">5</text><text x="606" y="491">4</text><text x="616" y="491">3</text><text x="643" y="491">2</text><text x="666" y="491">1</text></g>
<rect class="y" x="680" y="492" width="17" height="8"/><text x="688.5" y="498.5" class="yt">121</text>

<!-- pins bottom -->
<g class="p">
<rect x="271" y="372" width="4" height="10"/><rect x="284" y="372" width="4" height="10"/><rect x="295" y="372" width="4" height="10"/><rect x="318" y="372" width="4" height="10"/><rect x="345" y="372" width="4" height="10"/><rect x="355" y="372" width="4" height="10"/>
<rect x="271" y="437" width="4" height="10"/><rect x="285" y="437" width="4" height="10"/><rect x="310" y="437" width="4" height="10"/>
<rect x="348" y="465" width="10" height="4"/><rect x="348" y="481" width="10" height="4"/><rect x="348" y="498" width="10" height="4"/>
<rect x="455" y="364" width="4" height="10"/><rect x="466" y="364" width="4" height="10"/><rect x="506" y="364" width="4" height="10"/><rect x="556" y="364" width="4" height="10"/><rect x="566" y="364" width="4" height="10"/><rect x="578" y="364" width="4" height="10"/><rect x="588" y="364" width="4" height="10"/><rect x="600" y="364" width="4" height="10"/>
<rect x="435" y="468" width="4" height="10"/><rect x="461" y="468" width="4" height="10"/><rect x="486" y="468" width="4" height="10"/><rect x="495" y="468" width="4" height="10"/><rect x="508" y="468" width="4" height="10"/>
<rect x="588" y="475" width="4" height="10"/><rect x="601" y="475" width="4" height="10"/><rect x="611" y="475" width="4" height="10"/><rect x="638" y="475" width="4" height="10"/><rect x="661" y="475" width="4" height="10"/>
</g>
<g class="c">
<circle cx="273" cy="384" r="2.5"/><circle cx="320" cy="384" r="2.5"/>
<circle cx="273" cy="436" r="2.5"/><circle cx="287" cy="436" r="2.5"/><circle cx="312" cy="436" r="2.5"/><circle cx="333" cy="443" r="3"/><circle cx="260" cy="477" r="2.5"/>
<circle cx="360" cy="467" r="2.5"/><circle cx="360" cy="483" r="2.5"/><circle cx="360" cy="500" r="2.5"/>
<circle cx="222" cy="436" r="2.5"/><circle cx="222" cy="476" r="2.5"/>
<circle cx="457" cy="376" r="2.5"/><circle cx="468" cy="376" r="2.5"/><circle cx="508" cy="376" r="2.5"/><circle cx="558" cy="376" r="2.5"/><circle cx="568" cy="376" r="2.5"/><circle cx="580" cy="376" r="2.5"/><circle cx="590" cy="376" r="2.5"/><circle cx="602" cy="376" r="2.5"/>
<circle cx="437" cy="467" r="2.5"/><circle cx="463" cy="467" r="2.5"/><circle cx="488" cy="467" r="2.5"/><circle cx="497" cy="467" r="2.5"/><circle cx="510" cy="467" r="2.5"/>
<circle cx="590" cy="474" r="2.5"/><circle cx="603" cy="474" r="2.5"/><circle cx="613" cy="474" r="2.5"/><circle cx="640" cy="474" r="2.5"/><circle cx="663" cy="474" r="2.5"/>
<circle cx="400" cy="417" r="3"/><circle cx="558" cy="447" r="3"/><circle cx="603" cy="458" r="3"/>
</g>
</svg>
</body></html>
